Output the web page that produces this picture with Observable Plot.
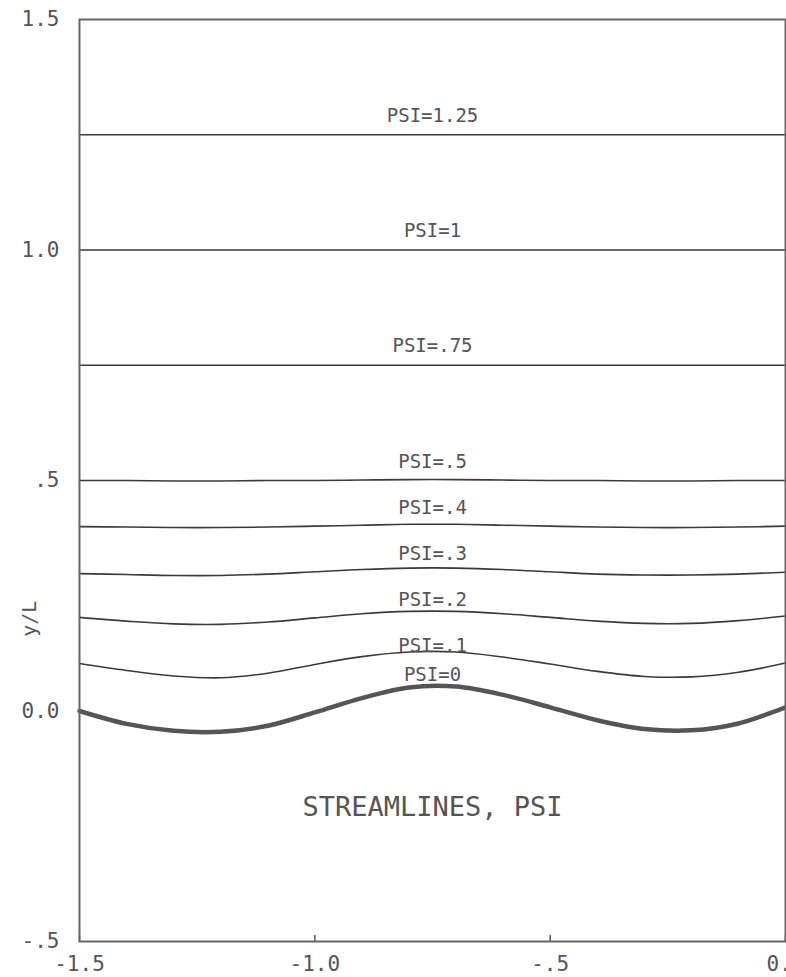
<!DOCTYPE html>
<html>
<head>
<meta charset="utf-8">
<script src="https://cdn.jsdelivr.net/npm/d3@7"></script>
<script src="https://cdn.jsdelivr.net/npm/@observablehq/plot@0.6"></script>
<style>
  html, body { margin: 0; padding: 0; background: #fff; overflow: hidden; }
  #chart { width: 786px; height: 977px; }
</style>
</head>
<body>
<div id="chart"></div>
<script>
// ---- data ----
const xs = [-1.5, -1.4, -1.3, -1.2, -1.1, -1.0, -0.9, -0.8, -0.7, -0.6, -0.5, -0.4, -0.3, -0.2, -0.1, 0.0];

const psi0    = [0.000, -0.028, -0.043, -0.045, -0.032, -0.003, 0.028, 0.051, 0.053, 0.035, 0.008, -0.020, -0.039, -0.042, -0.027, 0.008];
const psi010  = [0.103, 0.088, 0.076, 0.072, 0.082, 0.101, 0.118, 0.128, 0.128, 0.117, 0.102, 0.086, 0.075, 0.074, 0.084, 0.104];
const psi020  = [0.203, 0.195, 0.189, 0.188, 0.193, 0.202, 0.211, 0.216, 0.216, 0.211, 0.203, 0.195, 0.190, 0.190, 0.196, 0.206];
const psi030  = [0.298, 0.296, 0.294, 0.294, 0.297, 0.302, 0.307, 0.310, 0.310, 0.307, 0.302, 0.297, 0.295, 0.295, 0.297, 0.301];
const psi040  = [0.400, 0.399, 0.398, 0.398, 0.399, 0.401, 0.403, 0.405, 0.405, 0.403, 0.401, 0.399, 0.398, 0.398, 0.399, 0.401];
const psi050  = [0.500, 0.500, 0.499, 0.499, 0.500, 0.500, 0.501, 0.502, 0.502, 0.501, 0.500, 0.500, 0.499, 0.499, 0.500, 0.500];
const psi075  = [0.750, 0.750, 0.750, 0.750, 0.750, 0.750, 0.750, 0.750, 0.750, 0.750, 0.750, 0.750, 0.750, 0.750, 0.750, 0.750];
const psi100  = [1.000, 1.000, 1.000, 1.000, 1.000, 1.000, 1.000, 1.000, 1.000, 1.000, 1.000, 1.000, 1.000, 1.000, 1.000, 1.000];
const psi125  = [1.250, 1.250, 1.250, 1.250, 1.250, 1.250, 1.250, 1.250, 1.250, 1.250, 1.250, 1.250, 1.250, 1.250, 1.250, 1.250];

const psiValues = [0, 0.1, 0.2, 0.3, 0.4, 0.5, 0.75, 1, 1.25];
const psiSeries = [psi0, psi010, psi020, psi030, psi040, psi050, psi075, psi100, psi125];
const psiLabels = ["PSI=0", "PSI=.1", "PSI=.2", "PSI=.3", "PSI=.4", "PSI=.5", "PSI=.75", "PSI=1", "PSI=1.25"];
const labelX = -0.75;

const xTicks = [-1.5, -1.0, -0.5, 0.0];
const xTickLabels = ["-1.5", "-1.0", "-.5", "0.0"];
const yTicks = [-0.5, 0.0, 0.5, 1.0, 1.5];
const yTickLabels = ["-.5", "0.0", ".5", "1.0", "1.5"];

const yAxisTitle = "y/L";
const yAxisTitleAt = 0.2;
const captionText = "STREAMLINES, PSI";
const captionAt = {x: -0.75, y: -0.21};

// ---- build tidy tables ----
const points = [];
psiSeries.forEach((s, i) => s.forEach((v, j) => points.push({x: xs[j], y: v, psi: psiValues[i]})));
const labels = psiValues.map((p, i) => ({
  x: labelX,
  y: p === 0 ? d3.max(psiSeries[i]) : p,
  psi: p,
  text: psiLabels[i]
}));

const font = "'DejaVu Sans Mono', monospace";
const ink = "#3a3a3a";
const textInk = "#555";

const plot = Plot.plot({
  width: 786,
  height: 977,
  marginLeft: 79,
  marginRight: 1,
  marginTop: 19,
  marginBottom: 36,
  style: {fontFamily: font, fontSize: "20px", color: textInk, background: "#fff", overflow: "hidden"},
  x: {domain: [-1.5, 0]},
  y: {domain: [-0.5, 1.5]},
  marks: [
    Plot.axisX({
      ticks: xTicks, tickSize: 0, tickPadding: 15,
      tickFormat: d => xTickLabels[xTicks.indexOf(d)],
      label: null, fontSize: 21, fill: textInk, letterSpacing: "2.5px"
    }),
    Plot.axisY({
      ticks: yTicks, tickSize: 0, tickPadding: 20,
      tickFormat: d => yTickLabels[yTicks.indexOf(d)],
      label: null, fontSize: 21, fill: textInk, letterSpacing: "3px"
    }),
    Plot.text([yAxisTitle], {
      x: () => -1.5, y: () => yAxisTitleAt, text: d => d,
      rotate: -90, dx: -50, fontSize: 20, fill: textInk, textAnchor: "middle"
    }),
    // inward tick marks on the bottom axis
    Plot.ruleX(xTicks, {x: d => d, insetTop: 916, stroke: "#555", strokeWidth: 1.5}),
    Plot.line(points.filter(d => d.psi !== 0), {
      x: "x", y: "y", z: "psi", curve: "catmull-rom",
      stroke: ink, strokeWidth: 1.6
    }),
    Plot.line(points.filter(d => d.psi === 0), {
      x: "x", y: "y", curve: "catmull-rom",
      stroke: "#555", strokeWidth: 4.5
    }),
    Plot.text(labels.filter(d => d.psi !== 0), {
      x: "x", y: "y", text: "text", dy: -19,
      fontSize: 19, fill: textInk, textAnchor: "middle", letterSpacing: "1px"
    }),
    Plot.text(labels.filter(d => d.psi === 0), {
      x: "x", y: "y", text: "text", dy: -12,
      fontSize: 19, fill: textInk, textAnchor: "middle", letterSpacing: "1px"
    }),
    Plot.text([captionText], {
      x: () => captionAt.x, y: () => captionAt.y, text: d => d,
      fontSize: 27, fill: textInk, textAnchor: "middle"
    }),
    Plot.frame({stroke: "#666", strokeWidth: 2})
  ]
});
document.getElementById("chart").appendChild(plot);
</script>
</body>
</html>
